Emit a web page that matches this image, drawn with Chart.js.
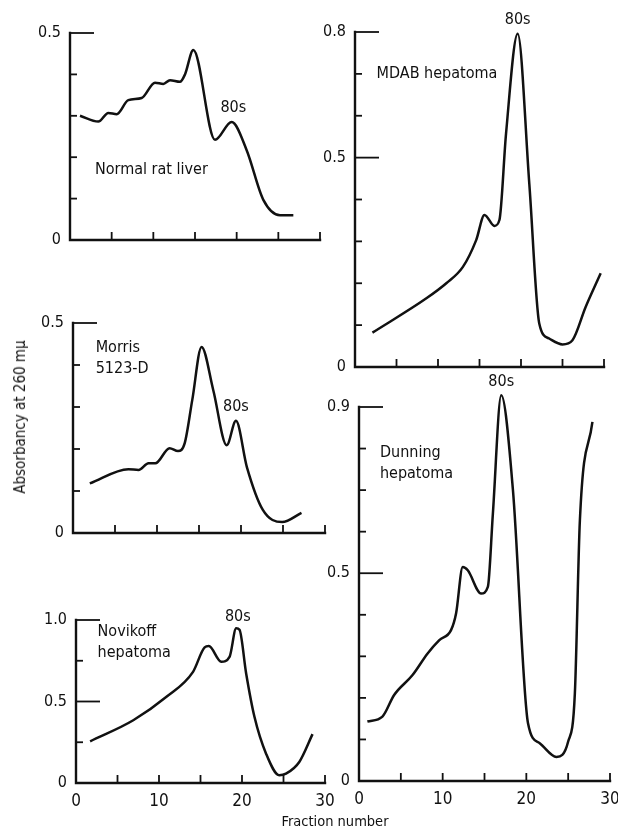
<!DOCTYPE html>
<html>
<head>
<meta charset="utf-8">
<script src="https://cdn.jsdelivr.net/npm/chart.js@4.4.1/dist/chart.umd.min.js"></script>
<style>
    html, body { margin: 0; padding: 0; background: #fff; }
    body { width: 618px; height: 829px; position: relative; overflow: hidden;
           font-family: 'DejaVu Sans Condensed', 'Liberation Sans Narrow', sans-serif; color: #111; }
    canvas.panel { position: absolute; }
    .axis-title { position: absolute; white-space: nowrap; font-size: 15px; }
    #yTitle { left: 20px; top: 417px; transform: translate(-50%, -50%) rotate(-90deg); }
    #xTitle { left: 335px; top: 821px; transform: translate(-50%, -50%); font-size: 14.5px; }
</style>
</head>
<body>
<canvas id="liverChart" class="panel"></canvas>
<canvas id="morrisChart" class="panel"></canvas>
<canvas id="novikoffChart" class="panel"></canvas>
<canvas id="mdabChart" class="panel"></canvas>
<canvas id="dunningChart" class="panel"></canvas>
<div id="yTitle" class="axis-title">Absorbancy at 260 mμ</div>
<div id="xTitle" class="axis-title">Fraction number</div>

<script>
// Fraction numbers / absorbancy
const liverFractions = [1.2, 3.4, 4.6, 5.6, 7.0, 8.6, 10.2, 11.2, 12.0, 13.2, 13.8, 14.8, 17.4, 19.4, 21.2, 23.2, 25.2, 26.8];
const liverAbs       = [0.300, 0.286, 0.307, 0.304, 0.338, 0.343, 0.380, 0.377, 0.386, 0.382, 0.400, 0.459, 0.242, 0.285, 0.217, 0.097, 0.060, 0.060];

const morrisFractions = [2.0, 6.6, 7.8, 9.0, 9.8, 11.5, 12.5, 13.3, 14.2, 15.3, 16.7, 18.3, 19.4, 20.7, 22.6, 24.9, 27.2];
const morrisAbs       = [0.118, 0.152, 0.150, 0.166, 0.166, 0.202, 0.195, 0.214, 0.317, 0.443, 0.340, 0.209, 0.267, 0.157, 0.055, 0.026, 0.048];

const novikoffFractions = [1.7, 6.9, 10.9, 14.1, 15.5, 16.0, 17.5, 18.5, 19.3, 19.7, 20.5, 21.5, 22.9, 24.5, 25.3, 26.9, 28.5];
const novikoffAbs       = [0.256, 0.385, 0.529, 0.682, 0.832, 0.840, 0.744, 0.774, 0.949, 0.940, 0.672, 0.406, 0.180, 0.047, 0.057, 0.129, 0.300];

const mdabFractions = [2.1, 8.6, 11.0, 13.0, 14.6, 15.6, 16.8, 17.4, 18.2, 19.6, 21.0, 22.2, 23.4, 25.0, 26.2, 27.8, 29.6];
const mdabAbs       = [0.082, 0.164, 0.200, 0.239, 0.303, 0.363, 0.337, 0.351, 0.558, 0.796, 0.438, 0.104, 0.068, 0.054, 0.064, 0.144, 0.224];

const dunningFractions = [1.0, 2.8, 4.2, 6.4, 8.2, 9.6, 11.0, 11.6, 12.4, 13.0, 14.6, 15.4, 16.0, 17.0, 18.4, 20.2, 21.6, 23.6, 25.0, 25.8, 26.4, 27.9];
const dunningAbs       = [0.143, 0.155, 0.207, 0.255, 0.307, 0.339, 0.363, 0.403, 0.515, 0.507, 0.451, 0.467, 0.643, 0.928, 0.700, 0.139, 0.091, 0.058, 0.095, 0.211, 0.627, 0.864];

// labelled y ticks per panel (the last one is the top of the drawn axis)
const liverYLabels    = [0, 0.5];
const morrisYLabels   = [0, 0.5];
const novikoffYLabels = [0, 0.5, 1.0];
const mdabYLabels     = [0, 0.5, 0.8];
const dunningYLabels  = [0, 0.5, 0.9];
const xLabels = [0, 10, 20, 30];

const INK = '#111';
const FONT = "'DejaVu Sans Condensed', 'Liberation Sans Narrow', sans-serif";

const near = (a, b) => Math.abs(a - b) < 1e-6;
const fmt = v => v === 0 ? '0' : v.toFixed(1);

// axes drawn the old paper way: L-shaped frame, ticks pointing inward
const paperAxes = {
    id: 'paperAxes',
    afterDraw(chart, args, opts) {
        const { ctx } = chart;
        const xs = chart.scales.x, ys = chart.scales.y;
        const axisTop = opts.labels[opts.labels.length - 1];
        const x0 = xs.getPixelForValue(0), x1 = xs.getPixelForValue(xs.max);
        const y0 = ys.getPixelForValue(0), yTop = ys.getPixelForValue(axisTop);

        ctx.save();
        ctx.strokeStyle = INK;
        ctx.lineCap = 'square';
        ctx.lineWidth = 2.4;
        ctx.beginPath();
        ctx.moveTo(x0, yTop);
        ctx.lineTo(x0, y0);
        ctx.lineTo(x1, y0);
        ctx.stroke();

        ctx.lineWidth = 1.8;
        ctx.lineCap = 'butt';
        ys.ticks.forEach(t => {
            if (t.value <= 0 || t.value > axisTop + 1e-6) return;
            const y = ys.getPixelForValue(t.value);
            const long = opts.labels.some(l => near(l, t.value));
            ctx.beginPath();
            ctx.moveTo(x0, y);
            ctx.lineTo(x0 + (long ? 24 : 7), y);
            ctx.stroke();
        });
        xs.ticks.forEach(t => {
            if (t.value <= 0) return;
            const x = xs.getPixelForValue(t.value);
            ctx.beginPath();
            ctx.moveTo(x, y0);
            ctx.lineTo(x, y0 - 8);
            ctx.stroke();
        });

        ctx.fillStyle = INK;
        ctx.font = '16px ' + FONT;
        ctx.textBaseline = 'middle';
        opts.notes.forEach(n => {
            ctx.textAlign = n.align || 'left';
            ctx.fillText(n.text, xs.getPixelForValue(n.x), ys.getPixelForValue(n.y));
        });
        ctx.restore();
    }
};

function makePanel(id, box, fractions, abs, yMax, yStep, yLabels, showX, notes) {
    const canvas = document.getElementById(id);
    canvas.width = box.w;
    canvas.height = box.h;
    canvas.style.left = box.left + 'px';
    canvas.style.top = box.top + 'px';

    return new Chart(canvas, {
        type: 'line',
        data: {
            datasets: [{
                data: fractions.map((f, i) => ({ x: f, y: abs[i] })),
                borderColor: INK,
                borderWidth: 2.5,
                fill: false,
                clip: false,
                pointRadius: 0,
                cubicInterpolationMode: 'monotone'
            }]
        },
        options: {
            responsive: false,
            animation: false,
            events: [],
            layout: { padding: { left: 0, top: box.pt, right: box.pr, bottom: 0 } },
            plugins: {
                legend: { display: false },
                tooltip: { enabled: false },
                paperAxes: { labels: yLabels, notes: notes }
            },
            scales: {
                x: {
                    type: 'linear', min: 0, max: 30,
                    grid: { display: false, drawTicks: false },
                    border: { display: false },
                    ticks: {
                        stepSize: 5, display: showX, autoSkip: false, maxRotation: 0,
                        padding: 8, color: INK, font: { family: FONT, size: 17 },
                        callback: v => xLabels.includes(v) ? String(v) : ''
                    },
                    afterFit: s => { s.height = box.xh; s.paddingLeft = 0; s.paddingRight = 0; }
                },
                y: {
                    type: 'linear', min: 0, max: yMax,
                    grid: { display: false, drawTicks: false },
                    border: { display: false },
                    ticks: {
                        stepSize: yStep, autoSkip: false, padding: 9,
                        color: INK, font: { family: FONT, size: 16 },
                        callback: v => yLabels.some(l => near(l, v)) ? fmt(v) : ''
                    },
                    afterFit: s => { s.width = box.yw; s.paddingTop = 0; s.paddingBottom = 0; }
                }
            }
        },
        plugins: [paperAxes]
    });
}

makePanel('liverChart',
    { left: 0, top: 0, w: 330, h: 262, yw: 70, pt: 33, pr: 10, xh: 22 },
    liverFractions, liverAbs, 0.5, 0.1, liverYLabels, false,
    [{ text: 'Normal rat liver', x: 3.0, y: 0.17 }, { text: '80s', x: 19.6, y: 0.32, align: 'center' }]);

makePanel('morrisChart',
    { left: 0, top: 290, w: 335, h: 265, yw: 73, pt: 33, pr: 10, xh: 22 },
    morrisFractions, morrisAbs, 0.5, 0.1, morrisYLabels, false,
    [{ text: 'Morris', x: 2.7, y: 0.44 }, { text: '5123-D', x: 2.7, y: 0.39 },
     { text: '80s', x: 19.4, y: 0.30, align: 'center' }]);

makePanel('novikoffChart',
    { left: 0, top: 585, w: 335, h: 230, yw: 76, pt: 35, pr: 10, xh: 32 },
    novikoffFractions, novikoffAbs, 1.0, 0.25, novikoffYLabels, true,
    [{ text: 'Novikoff', x: 2.6, y: 0.93 }, { text: 'hepatoma', x: 2.6, y: 0.80 },
     { text: '80s', x: 19.5, y: 1.02, align: 'center' }]);

makePanel('mdabChart',
    { left: 300, top: 0, w: 318, h: 387, yw: 55, pt: 32, pr: 14, xh: 20 },
    mdabFractions, mdabAbs, 0.8, 0.1, mdabYLabels, false,
    [{ text: 'MDAB hepatoma', x: 2.6, y: 0.70 }, { text: '80s', x: 19.6, y: 0.83, align: 'center' }]);

makePanel('dunningChart',
    { left: 300, top: 370, w: 318, h: 441, yw: 59, pt: 37, pr: 8, xh: 30 },
    dunningFractions, dunningAbs, 0.9, 0.1, dunningYLabels, true,
    [{ text: 'Dunning', x: 2.5, y: 0.79 }, { text: 'hepatoma', x: 2.5, y: 0.74 },
     { text: '80s', x: 17.0, y: 0.96, align: 'center' }]);
</script>
</body>
</html>
